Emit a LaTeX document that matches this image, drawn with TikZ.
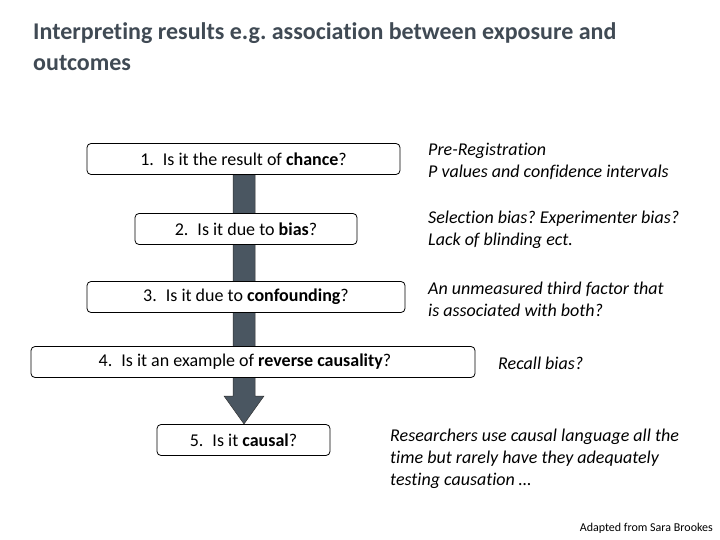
\documentclass[tikz,border=0pt]{standalone}
\usepackage{fontspec}
\setmainfont{Carlito}[Ligatures={NoCommon}]
\usetikzlibrary{calc}
\definecolor{titlecol}{HTML}{404A54}
\definecolor{arrowcol}{HTML}{4A5661}
\frenchspacing
\begin{document}
\begin{tikzpicture}[x=1pt,y=-1pt,
  qbox/.style={draw=black, fill=white, rounded corners=4pt, line width=0.8pt,
    minimum height=31pt, inner sep=0pt, font=\fontsize{18}{20}\selectfont},
  note/.style={anchor=west, align=left, inner sep=0pt,
    font=\fontsize{18}{22}\selectfont\itshape},
  ttl/.style={anchor=west, align=left, inner sep=0pt, text=titlecol,
    font=\fontsize{24}{31}\selectfont\bfseries}]
\useasboundingbox (0,0) rectangle (720,540);
\node[ttl] (title) at (33,47) {Interpreting results e.g. association between exposure and\\outcomes};
% block arrow (behind the boxes)
\coordinate (atop) at (244,175);
\coordinate (atip) at (244,424);
\fill[arrowcol, draw=black!80, line width=0.5pt]
  ($(atop)+(-11,0)$) -- ($(atop)+(11,0)$) -- ($(atip)+(11,-28)$) -- ($(atip)+(20,-28)$)
  -- (atip) -- ($(atip)+(-20,-28)$) -- ($(atip)+(-11,-28)$) -- cycle;
\node[qbox, minimum width=313pt] (b1) at (243.5,159) {1.\enspace Is it the result of \textbf{chance}?};
\node[qbox, minimum width=222pt] (b2) at (246,229) {2.\enspace Is it due to \textbf{bias}?};
\node[qbox, minimum width=318pt] (b3) at (246,297) {3.\enspace Is it due to \textbf{confounding}?};
\node[qbox, minimum width=444pt] (b4) at (253,362) {\hspace*{-16pt}4.\enspace Is it an example of \textbf{reverse causality}?};
\node[qbox, minimum width=173pt] (b5) at (243.5,440) {5.\enspace Is it \textbf{causal}?};
\node[note] (n1) at (428,161) {Pre-Registration\\P values and confidence intervals};
\node[note] (n2) at (428,230) {Selection bias? Experimenter bias?\\Lack of blinding ect.};
\node[note] (n3) at (428,299) {An unmeasured third factor that\\is associated with both?};
\node[note] (n4) at (498,363) {Recall bias?};
\node[note] (n5) at (390,459) {Researchers use causal language all the\\time but rarely have they adequately\\testing causation …};
\node[anchor=east, inner sep=0pt, font=\fontsize{12}{14}\selectfont] (src) at (713,528) {Adapted from Sara Brookes};
\end{tikzpicture}
\end{document}
